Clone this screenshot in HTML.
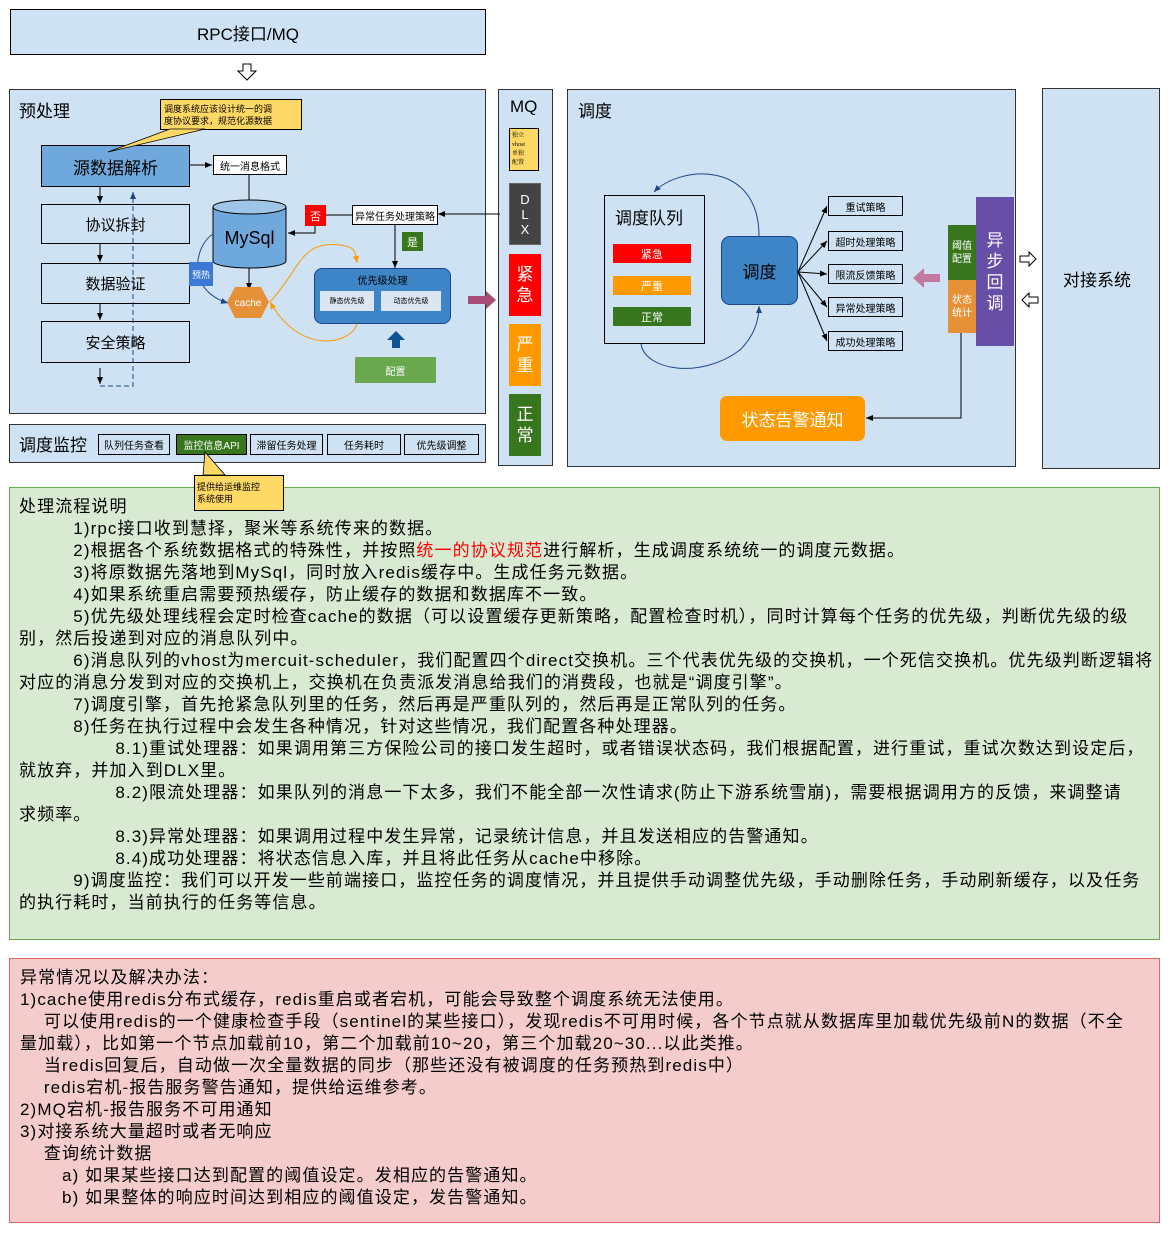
<!DOCTYPE html>
<html><head><meta charset="utf-8"><style>
*{margin:0;padding:0;box-sizing:border-box}
body{width:1170px;height:1253px;background:#fff;position:relative;font-family:"Liberation Sans","Noto Sans CJK SC",sans-serif;color:#000;overflow:hidden}
.a{position:absolute}
.bx{position:absolute;border:1px solid #000;display:flex;align-items:center;justify-content:center;text-align:center}
.pn{position:absolute;background:#cfe2f3;border:1px solid #333}
.tx{position:absolute;left:19px;font-size:17px;line-height:22px;white-space:nowrap;letter-spacing:1.1px}
.tx div{height:22px}
</style></head><body>
<div class="bx" style="left:10px;top:9px;width:476px;height:46px;background:#cfe2f3;font-size:17px">RPC接口/MQ</div>

<div class="pn" style="left:9px;top:89px;width:477px;height:325px"></div>
<div class="a" style="left:19px;top:97px;font-size:17px">预处理</div>
<div class="pn" style="left:9px;top:424px;width:477px;height:39px"></div>
<div class="a" style="left:19px;top:431px;font-size:17px">调度监控</div>
<div class="pn" style="left:498px;top:89px;width:55px;height:377px"></div>
<div class="a" style="left:510px;top:97px;font-size:17px">MQ</div>
<div class="pn" style="left:567px;top:89px;width:449px;height:378px"></div>
<div class="a" style="left:578px;top:97px;font-size:17px">调度</div>
<div class="pn" style="left:1042px;top:88px;width:118px;height:381px"></div>
<div class="a" style="left:1063px;top:266px;font-size:17px">对接系统</div>

<div class="bx" style="left:41px;top:145px;width:149px;height:42px;background:#6fa8dc;font-size:17px">源数据解析</div>
<div class="bx" style="left:41px;top:204px;width:149px;height:40px;font-size:15px">协议拆封</div>
<div class="bx" style="left:41px;top:263px;width:149px;height:41px;font-size:15px">数据验证</div>
<div class="bx" style="left:41px;top:321px;width:149px;height:42px;font-size:15px">安全策略</div>
<div class="bx" style="left:213px;top:155px;width:74px;height:20px;font-size:10px;background:#fff">统一消息格式</div>
<div class="bx" style="left:305px;top:205px;width:21px;height:21px;background:#f00;color:#fff;font-size:11px;border:none">否</div>
<div class="bx" style="left:352px;top:205px;width:86px;height:20px;font-size:10px;background:#fff">异常任务处理策略</div>
<div class="bx" style="left:402px;top:232px;width:21px;height:19px;background:#38761d;color:#fff;font-size:11px;border:none">是</div>
<div class="bx" style="left:189px;top:262px;width:24px;height:24px;background:#3c78d8;color:#fff;font-size:9px;border:none;z-index:3;white-space:nowrap;overflow:hidden">预热</div>
<div class="a" style="left:314px;top:268px;width:137px;height:56px;background:#3d85c6;border:1px solid #1c4587;border-radius:8px"></div>
<div class="a" style="left:314px;top:272px;width:137px;text-align:center;font-size:10px">优先级处理</div>
<div class="bx" style="left:320px;top:291px;width:54px;height:20px;background:#dbe6f2;border:none;font-size:7px">静态优先级</div>
<div class="bx" style="left:381px;top:291px;width:60px;height:20px;background:#dbe6f2;border:none;font-size:7px">动态优先级</div>
<div class="bx" style="left:355px;top:357px;width:81px;height:26px;background:#6aa84f;color:#fff;font-size:10px;border:none">配置</div>
<div class="bx" style="left:160px;top:99px;width:142px;height:31px;background:#ffd966;font-size:9px;line-height:12px;text-align:left;justify-content:flex-start;padding-left:3px">调度系统应该设计统一的调<br>度协议要求，规范化源数据</div>

<div class="bx" style="left:509px;top:128px;width:30px;height:43px;background:#ffd966;font-size:6px;line-height:9px;font-family:'Liberation Serif','Noto Serif CJK SC',serif;justify-content:flex-start;text-align:left;padding-left:2px">独立<br>vhost<br>单独<br>配置</div>
<div class="bx" style="left:509px;top:183px;width:32px;height:62px;background:#434343;color:#fff;font-size:13px;line-height:15px;border:1px solid #666">D<br>L<br>X</div>
<div class="bx" style="left:509px;top:254px;width:32px;height:62px;background:#f00;color:#fff;font-size:17px;line-height:21px;border:none">紧<br>急</div>
<div class="bx" style="left:509px;top:324px;width:32px;height:62px;background:#ff9900;color:#fff;font-size:17px;line-height:21px;border:none">严<br>重</div>
<div class="bx" style="left:509px;top:394px;width:32px;height:62px;background:#38761d;color:#fff;font-size:17px;line-height:21px;border:none">正<br>常</div>

<div class="bx" style="left:98px;top:434px;width:72px;height:21px;font-size:10px">队列任务查看</div>
<div class="bx" style="left:176px;top:434px;width:71px;height:21px;font-size:10px;background:#38761d;color:#fff">监控信息API</div>
<div class="bx" style="left:250px;top:434px;width:73px;height:21px;font-size:10px">滞留任务处理</div>
<div class="bx" style="left:327px;top:434px;width:74px;height:21px;font-size:10px">任务耗时</div>
<div class="bx" style="left:404px;top:434px;width:75px;height:21px;font-size:10px">优先级调整</div>

<div class="bx" style="left:604px;top:195px;width:101px;height:149px;align-items:flex-start;justify-content:flex-start;padding:8px 0 0 10px;font-size:17px">调度队列</div>
<div class="bx" style="left:613px;top:244px;width:78px;height:19px;background:#f00;color:#fff;font-size:11px;border:none">紧急</div>
<div class="bx" style="left:613px;top:276px;width:78px;height:19px;background:#ff9900;color:#fff;font-size:11px;border:none">严重</div>
<div class="bx" style="left:613px;top:307px;width:78px;height:19px;background:#38761d;color:#fff;font-size:11px;border:none">正常</div>
<div class="bx" style="left:721px;top:236px;width:77px;height:69px;background:#3d85c6;border:1px solid #1c4587;border-radius:9px;font-size:17px">调度</div>
<div class="bx" style="left:828px;top:196px;width:75px;height:20px;font-size:10px">重试策略</div>
<div class="bx" style="left:828px;top:231px;width:75px;height:20px;font-size:10px">超时处理策略</div>
<div class="bx" style="left:828px;top:264px;width:75px;height:20px;font-size:10px">限流反馈策略</div>
<div class="bx" style="left:828px;top:297px;width:75px;height:20px;font-size:10px">异常处理策略</div>
<div class="bx" style="left:828px;top:331px;width:75px;height:20px;font-size:10px">成功处理策略</div>
<div class="bx" style="left:948px;top:225px;width:28px;height:55px;background:#38761d;color:#fff;font-size:10px;line-height:13px;border:none">阈值<br>配置</div>
<div class="bx" style="left:948px;top:280px;width:28px;height:53px;background:#e69138;color:#fff;font-size:10px;line-height:13px;border:none">状态<br>统计</div>
<div class="bx" style="left:976px;top:197px;width:38px;height:149px;background:#674ea7;color:#fff;font-size:17px;line-height:21px;border:none">异<br>步<br>回<br>调</div>
<div class="bx" style="left:720px;top:396px;width:145px;height:45px;background:#ff9900;color:#fff;font-size:17px;border:none;border-radius:7px">状态告警通知</div>

<svg class="a" style="left:0;top:0" width="1170" height="480">
<defs>
<marker id="ar" markerWidth="8" markerHeight="8" refX="7" refY="4" orient="auto" markerUnits="userSpaceOnUse"><path d="M0,1 L7,4 L0,7z" fill="#000"/></marker>
<marker id="ab" markerWidth="8" markerHeight="8" refX="7" refY="4" orient="auto" markerUnits="userSpaceOnUse"><path d="M0,1 L7,4 L0,7z" fill="#1c4587"/></marker>
<marker id="ao" markerWidth="8" markerHeight="8" refX="7" refY="4" orient="auto" markerUnits="userSpaceOnUse"><path d="M0,1 L7,4 L0,7z" fill="#f90"/></marker>
</defs>
<path d="M243,64 h8 v7 h5 l-9,9 l-9,-9 h5z" fill="#fff" stroke="#000"/>
<path d="M170,129 L108,152 L205,129z" fill="#ffd966" stroke="#000" stroke-width="0.8"/>
<g stroke="#000" fill="none" marker-end="url(#ar)">
<line x1="100" y1="187" x2="100" y2="203"/>
<line x1="100" y1="244" x2="100" y2="262"/>
<line x1="100" y1="304" x2="100" y2="320"/>
<line x1="100" y1="368" x2="100" y2="384"/>
<line x1="190" y1="165" x2="212" y2="165"/>
<line x1="249" y1="175" x2="249" y2="217"/>
<line x1="249" y1="268" x2="249" y2="290"/>
<polyline points="315,225 315,233 288,233"/>
<line x1="500" y1="214" x2="438" y2="214"/>
<line x1="395" y1="225" x2="395" y2="268"/>
</g>
<line x1="326" y1="215" x2="352" y2="215" stroke="#000"/>
<path d="M100,386 L133,386 L133,192" stroke="#1c4587" stroke-dasharray="5,3" fill="none" marker-end="url(#ab)"/>
<path d="M213,207 V261 A36.5,7 0 0 0 286,261 V207" fill="#6fa8dc" stroke="#000"/>
<ellipse cx="249.5" cy="207" rx="36.5" ry="7" fill="#9fc5e8" stroke="#000"/>
<text x="249.5" y="244" font-size="18" text-anchor="middle" font-family="Liberation Sans">MySql</text>
<path d="M213,234 C195,245 185,290 228,303" stroke="#1c4587" fill="none" marker-end="url(#ab)"/>
<polygon points="235,287 261,287 269,302 261,318 235,318 227,302" fill="#e69138"/>
<text x="248" y="306" font-size="10" fill="#fff" text-anchor="middle" font-family="Liberation Sans">cache</text>
<path d="M270,302 C300,270 300,240 340,245 C355,247 355,250 357,263" stroke="#f90" fill="none" marker-end="url(#ao)"/>
<path d="M357,324 C350,345 300,355 270,302" stroke="#f90" fill="none" marker-end="url(#ao)"/>
<path d="M392,348 v-8 h-5 l9,-9 l9,9 h-5 v8z" fill="#0b5394"/>
<path d="M468,296 h18 v-5 l10,9 l-10,9 v-5 h-18z" fill="#a64d79"/>
<path d="M203,475 L205,452 L225,475z" fill="#ffd966" stroke="#000" stroke-width="0.8"/>
<path d="M759,236 C759,160 680,165 654,192" stroke="#1c4587" fill="none" marker-end="url(#ab)"/>
<path d="M641,344 C645,370 700,380 740,350 C755,335 759,320 759,306" stroke="#1c4587" fill="none" marker-end="url(#ab)"/>
<g stroke="#000" fill="none" marker-end="url(#ar)">
<line x1="798" y1="272" x2="827" y2="206"/>
<line x1="798" y1="272" x2="827" y2="241"/>
<line x1="798" y1="272" x2="827" y2="274"/>
<line x1="798" y1="272" x2="827" y2="307"/>
<line x1="798" y1="272" x2="827" y2="341"/>
<polyline points="961,333 961,418 866,418"/>
</g>
<path d="M940,274 h-16 v-6 l-11,10 l11,10 v-6 h16z" fill="#c27ba0"/>
<path d="M1020,256 h9 v-4 l7,7 l-7,7 v-4 h-9z" fill="#fff" stroke="#000"/>
<path d="M1038,297 h-9 v-4 l-7,7 l7,7 v-4 h9z" fill="#fff" stroke="#000"/>
</svg>
<div class="bx" style="left:194px;top:475px;width:90px;height:36px;background:#ffd966;font-size:9px;line-height:12px;text-align:left;justify-content:flex-start;padding-left:2px;z-index:2">提供给运维监控<br>系统使用</div>

<div class="a" style="left:9px;top:487px;width:1151px;height:453px;background:#d9ead3;border:1px solid #6aa84f"></div>
<div class="tx" style="top:496px">
<div>处理流程说明</div>
<div>　　　1)rpc接口收到慧择，聚米等系统传来的数据。</div>
<div>　　　2)根据各个系统数据格式的特殊性，并按照<span style="color:#f00">统一的协议规范</span>进行解析，生成调度系统统一的调度元数据。</div>
<div>　　　3)将原数据先落地到MySql，同时放入redis缓存中。生成任务元数据。</div>
<div>　　　4)如果系统重启需要预热缓存，防止缓存的数据和数据库不一致。</div>
<div>　　　5)优先级处理线程会定时检查cache的数据（可以设置缓存更新策略，配置检查时机），同时计算每个任务的优先级，判断优先级的级</div>
<div>别，然后投递到对应的消息队列中。</div>
<div>　　　6)消息队列的vhost为mercuit-scheduler，我们配置四个direct交换机。三个代表优先级的交换机，一个死信交换机。优先级判断逻辑将</div>
<div>对应的消息分发到对应的交换机上，交换机在负责派发消息给我们的消费段，也就是“调度引擎”。</div>
<div>　　　7)调度引擎，首先抢紧急队列里的任务，然后再是严重队列的，然后再是正常队列的任务。</div>
<div>　　　8)任务在执行过程中会发生各种情况，针对这些情况，我们配置各种处理器。</div>
<div>　　　　　 8.1)重试处理器：如果调用第三方保险公司的接口发生超时，或者错误状态码，我们根据配置，进行重试，重试次数达到设定后，</div>
<div>就放弃，并加入到DLX里。</div>
<div>　　　　　 8.2)限流处理器：如果队列的消息一下太多，我们不能全部一次性请求(防止下游系统雪崩)，需要根据调用方的反馈，来调整请</div>
<div>求频率。</div>
<div>　　　　　 8.3)异常处理器：如果调用过程中发生异常，记录统计信息，并且发送相应的告警通知。</div>
<div>　　　　　 8.4)成功处理器：将状态信息入库，并且将此任务从cache中移除。</div>
<div>　　　9)调度监控：我们可以开发一些前端接口，监控任务的调度情况，并且提供手动调整优先级，手动删除任务，手动刷新缓存，以及任务</div>
<div>的执行耗时，当前执行的任务等信息。</div>
</div>

<div class="a" style="left:9px;top:958px;width:1151px;height:265px;background:#f4cccc;border:1px solid #e06666"></div>
<div class="tx" style="top:967px;left:20px">
<div>异常情况以及解决办法：</div>
<div>1)cache使用redis分布式缓存，redis重启或者宕机，可能会导致整个调度系统无法使用。</div>
<div>　 可以使用redis的一个健康检查手段（sentinel的某些接口），发现redis不可用时候，各个节点就从数据库里加载优先级前N的数据（不全</div>
<div>量加载），比如第一个节点加载前10，第二个加载前10~20，第三个加载20~30...以此类推。</div>
<div>　 当redis回复后，自动做一次全量数据的同步（那些还没有被调度的任务预热到redis中）</div>
<div>　 redis宕机-报告服务警告通知，提供给运维参考。</div>
<div>2)MQ宕机-报告服务不可用通知</div>
<div>3)对接系统大量超时或者无响应</div>
<div>　 查询统计数据</div>
<div>　　  a) 如果某些接口达到配置的阈值设定。发相应的告警通知。</div>
<div>　　  b) 如果整体的响应时间达到相应的阈值设定，发告警通知。</div>
</div>
</body></html>
